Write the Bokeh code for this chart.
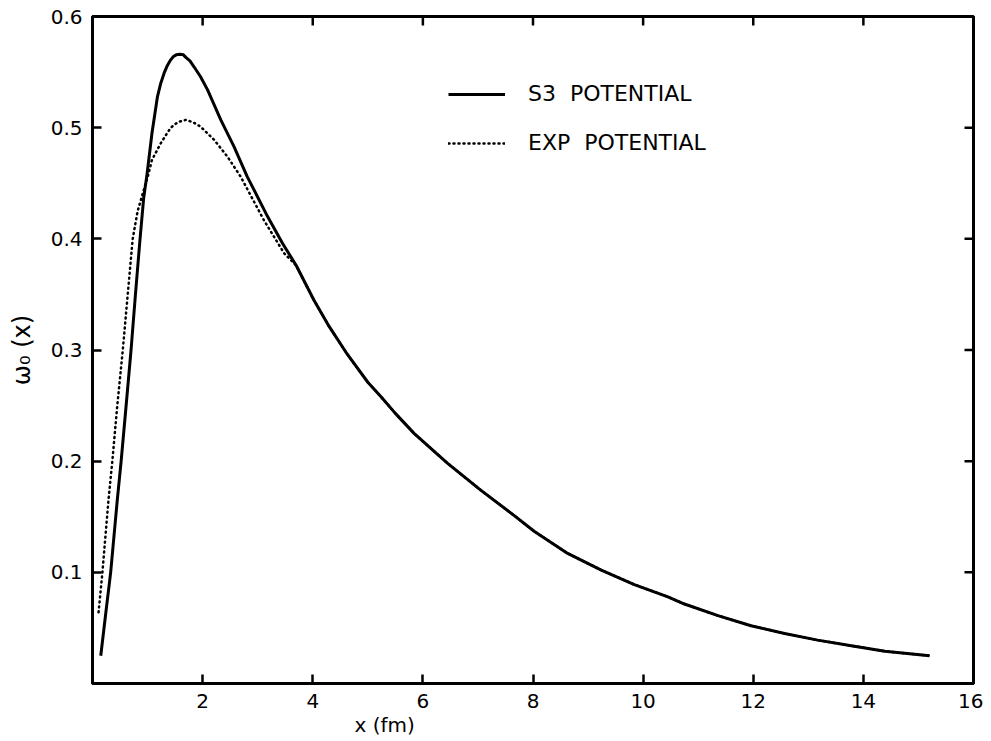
import math
from bokeh.plotting import figure
from bokeh.models import (FixedTicker, Legend, LegendItem, Title, Range1d)
from bokeh.embed import file_html
from bokeh.resources import INLINE

# ---- data ----
s3_x = [0.15, 0.25, 0.33, 0.45, 0.52, 0.60, 0.70, 0.78, 0.86, 0.93, 0.99, 1.08,
        1.18, 1.24, 1.30, 1.36, 1.42, 1.47, 1.52, 1.59, 1.65, 1.70, 1.77, 1.84,
        1.96, 2.09, 2.33, 2.57, 2.81, 3.18,
        3.45, 3.70, 4.02, 4.30, 4.63, 5.00, 5.24, 5.50, 5.84, 6.20, 6.45, 7.05,
        7.66, 8.02, 8.63, 9.24, 9.84, 10.45, 10.75, 11.36, 11.96, 12.57, 13.17,
        13.78, 14.39, 15.20]
s3_y = [0.025, 0.067, 0.100, 0.165, 0.200, 0.244, 0.300, 0.350, 0.398, 0.437, 0.458, 0.495,
        0.528, 0.540, 0.549, 0.556, 0.561, 0.564, 0.5655, 0.566, 0.5655, 0.563, 0.560, 0.555,
        0.546, 0.534, 0.507, 0.483, 0.456, 0.420,
        0.396, 0.376, 0.345, 0.321, 0.296, 0.271, 0.258, 0.243, 0.225, 0.209, 0.198, 0.174,
        0.151, 0.137, 0.117, 0.102, 0.089, 0.078, 0.0715, 0.061, 0.052, 0.045, 0.039,
        0.034, 0.029, 0.025]

exp_x = [0.11, 0.18, 0.29, 0.36, 0.45, 0.55, 0.64, 0.73, 0.82, 0.92, 1.02, 1.08,
         1.24, 1.42, 1.55, 1.69, 1.82, 1.96, 2.21, 2.45, 2.69, 3.11, 3.48, 3.70, 4.02, 4.30,
         4.63, 5.00, 5.24, 5.50, 5.84, 6.20, 6.45, 7.05, 7.66, 8.02, 8.63, 9.24,
         9.84, 10.45, 10.75, 11.36, 11.96, 12.57, 13.17, 13.78, 14.39, 15.20]
exp_y = [0.064, 0.100, 0.165, 0.200, 0.250, 0.300, 0.350, 0.400, 0.425, 0.442, 0.459, 0.471,
         0.486, 0.500, 0.505, 0.507, 0.505, 0.501, 0.489, 0.474, 0.456, 0.417, 0.387, 0.376, 0.345, 0.321,
         0.296, 0.271, 0.258, 0.243, 0.225, 0.209, 0.198, 0.174, 0.151, 0.137, 0.117, 0.102,
         0.089, 0.078, 0.0715, 0.061, 0.052, 0.045, 0.039, 0.034, 0.029, 0.025]

x_ticks = [2, 4, 6, 8, 10, 12, 14, 16]
y_ticks = [0.1, 0.2, 0.3, 0.4, 0.5, 0.6]
x_lim = (0, 16)
y_lim = (0, 0.6)
series_names = ["S3  POTENTIAL", "EXP  POTENTIAL"]
x_title = "x (fm)"
y_title = "ω₀ (x)"

FONT = "DejaVu Sans"

p = figure(width=983, height=741, output_backend="svg", toolbar_location=None,
           x_range=Range1d(*x_lim), y_range=Range1d(*y_lim),
           min_border_left=92, min_border_right=10, min_border_top=16, min_border_bottom=58)
p.grid.visible = False
p.background_fill_color = "white"
p.border_fill_color = "white"
p.outline_line_color = "black"
p.outline_line_width = 3

def style_axis(ax, ticks):
    ax.ticker = FixedTicker(ticks=ticks)
    ax.minor_tick_line_color = None
    ax.major_tick_in = 9
    ax.major_tick_out = 0
    ax.major_tick_line_width = 2.5
    ax.major_tick_line_color = "black"
    ax.axis_line_width = 3
    ax.axis_line_color = "black"
    ax.major_label_text_font = FONT
    ax.major_label_text_font_size = "20px"
    ax.major_label_text_color = "black"
    ax.major_label_standoff = 10

style_axis(p.xaxis[0], x_ticks)
style_axis(p.yaxis[0], y_ticks)
p.yaxis[0].axis_label = y_title
p.yaxis[0].axis_label_text_font = FONT
p.yaxis[0].axis_label_text_font_size = "24px"
p.yaxis[0].axis_label_text_font_style = "normal"
p.yaxis[0].axis_label_text_color = "black"
p.yaxis[0].axis_label_standoff = 12

# inward ticks on the top and right edges of the frame
p.ray(x=x_ticks, y=[y_lim[1]] * len(x_ticks), length=9, length_units="screen",
      angle=-math.pi / 2, line_color="black", line_width=2.5)
p.ray(x=[x_lim[1]] * len(y_ticks), y=y_ticks, length=9, length_units="screen",
      angle=math.pi, line_color="black", line_width=2.5)

r1 = p.line(s3_x, s3_y, line_color="black", line_width=3)
r2 = p.line(exp_x, exp_y, line_color="black", line_width=2.5, line_dash="1 4", line_cap="round")

legend = Legend(items=[LegendItem(label=series_names[0], renderers=[r1]),
                       LegendItem(label=series_names[1], renderers=[r2])],
                location=(356, 528), orientation="vertical",
                glyph_width=57, glyph_height=24, label_height=24, spacing=24,
                label_standoff=23, padding=0, margin=0,
                border_line_color=None, background_fill_alpha=0,
                label_text_font=FONT, label_text_font_size="22px", label_text_color="black")
p.add_layout(legend, "center")

xt = Title(text=x_title, align="left", offset=262, standoff=0,
           text_font=FONT, text_font_size="20px", text_font_style="normal",
           text_color="black")
p.add_layout(xt, "below")

open("out.html", "w").write(file_html(p, INLINE))
